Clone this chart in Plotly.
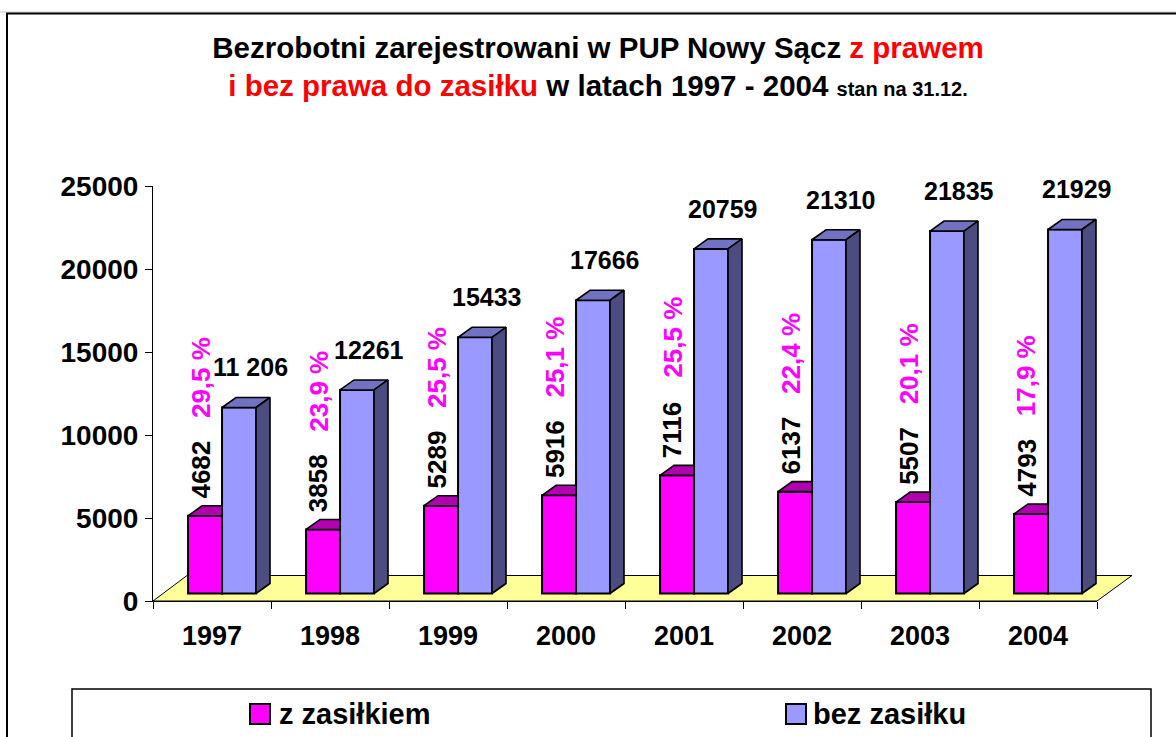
import plotly.graph_objects as go

# ---------------- data ----------------
years = ["1997", "1998", "1999", "2000", "2001", "2002", "2003", "2004"]
z_zasilkiem = [4682, 3858, 5289, 5916, 7116, 6137, 5507, 4793]
bez_zasilku = [11206, 12261, 15433, 17666, 20759, 21310, 21835, 21929]
bez_labels = ["11 206", "12261", "15433", "17666", "20759", "21310", "21835", "21929"]
udzial = ["29,5 %", "23,9 %", "25,5 %", "25,1 %", "25,5 %", "22,4 %", "20,1 %", "17,9 %"]
y_ticks = [0, 5000, 10000, 15000, 20000, 25000]
y_tick_labels = ["0", "5000", "10000", "15000", "20000", "25000"]

# ---------------- layout geometry (styles) ----------------
W, H = 1176, 737
ML, MR, MT, MB = 153, 79, 186, 136
PW, PH = W - ML - MR, H - MT - MB
YMAX = 25000
FONT = "Arial, 'Liberation Sans', sans-serif"


def px(xp):
    return (xp - ML) / PW


def py(yp):
    return (H - MB - yp) / PH


UNIT = YMAX / PH          # value units per pixel
BASE = 7.5 * UNIT         # bars stand slightly inside the floor
DY = 10 * UNIT            # 3-D depth (vertical)
DX = 14 / 118             # 3-D depth (horizontal, category units)
BW = 0.288                # bar width
OFF_M = -0.203
OFF_B = OFF_M + BW

MAG, MAG_TOP = "#FF00FF", "#B000B0"
BLU, BLU_TOP, BLU_SIDE = "#9999FF", "#7272C2", "#4C4C80"

xs = list(range(len(years)))

fig = go.Figure()

fig.add_trace(go.Bar(
    x=xs, y=z_zasilkiem, base=BASE, width=BW, offset=OFF_M,
    marker=dict(color=MAG, line=dict(color="black", width=2)),
    name="z zasiłkiem", showlegend=False, hoverinfo="skip"))
fig.add_trace(go.Bar(
    x=xs, y=bez_zasilku, base=BASE, width=BW, offset=OFF_B,
    marker=dict(color=BLU, line=dict(color="black", width=2)),
    name="bez zasiłku", showlegend=False, hoverinfo="skip"))

# 3-D faces computed from the data values
mtx, mty, btx, bty, bsx, bsy = [], [], [], [], [], []
for i, (vm, vb) in enumerate(zip(z_zasilkiem, bez_zasilku)):
    xa, xb, xc = i + OFF_M, i + OFF_B, i + OFF_B + BW
    t = BASE + vm
    mtx += [xa, xb, xb, xa + DX, xa, None]
    mty += [t, t, t + DY, t + DY, t, None]
    T = BASE + vb
    btx += [xb, xc, xc + DX, xb + DX, xb, None]
    bty += [T, T, T + DY, T + DY, T, None]
    bsx += [xc, xc + DX, xc + DX, xc, xc, None]
    bsy += [BASE, BASE + DY, T + DY, T, BASE, None]

for fx, fy, fc in [(mtx, mty, MAG_TOP), (btx, bty, BLU_TOP), (bsx, bsy, BLU_SIDE)]:
    fig.add_trace(go.Scatter(
        x=fx, y=fy, mode="lines", fill="toself", fillcolor=fc,
        line=dict(color="black", width=1.6), showlegend=False, hoverinfo="skip"))

annotations = []
for i, (vm, vb) in enumerate(zip(z_zasilkiem, bez_zasilku)):
    annotations.append(dict(
        x=i + 0.33, y=BASE + vb + DY, xref="x", yref="y", text=f"<b>{bez_labels[i]}</b>",
        showarrow=False, yanchor="bottom", yshift=14,
        font=dict(family=FONT, size=25, color="black")))
    annotations.append(dict(
        x=i - 0.095, y=BASE + vm + DY, xref="x", yref="y", text=str(vm),
        showarrow=False, yanchor="bottom", yshift=5, textangle=-90,
        font=dict(family=FONT, size=26, color="black", weight="bold")))
    annotations.append(dict(
        x=i - 0.095, y=BASE + vm + DY, xref="x", yref="y", text=udzial[i],
        showarrow=False, yanchor="bottom", yshift=86, textangle=-90,
        font=dict(family=FONT, size=26, color="#FF00FF", weight="bold")))

# custom legend texts
annotations.append(dict(x=px(277), y=py(714), xref="paper", yref="paper", text="<b>z zasiłkiem</b>",
                        showarrow=False, xanchor="left", yanchor="middle",
                        font=dict(family=FONT, size=29, color="black")))
annotations.append(dict(x=px(811), y=py(714), xref="paper", yref="paper", text="<b>bez zasiłku</b>",
                        showarrow=False, xanchor="left", yanchor="middle",
                        font=dict(family=FONT, size=29, color="black")))

shapes = [
    # outer frame
    dict(type="line", xref="paper", yref="paper", x0=px(0), y0=py(12), x1=px(1190), y1=py(12),
         line=dict(color="#C8C8C8", width=1), layer="below"),
    dict(type="rect", xref="paper", yref="paper", x0=px(7), y0=py(13.5), x1=px(1190), y1=py(760),
         line=dict(color="black", width=2), layer="below"),
    # floor
    dict(type="path", xref="paper", yref="paper",
         path=f"M 0,0 L 1,0 L {px(1132)},{py(575.5)} L {px(187)},{py(575.5)} Z",
         fillcolor="#FFFF99", line=dict(color="black", width=1), layer="below"),
    # legend box
    dict(type="rect", xref="paper", yref="paper", x0=px(72), y0=py(689), x1=px(1151), y1=py(760),
         line=dict(color="black", width=1.5), fillcolor="white"),
    dict(type="rect", xref="paper", yref="paper", x0=px(250), y0=py(704), x1=px(270), y1=py(724),
         line=dict(color="black", width=2), fillcolor=MAG),
    dict(type="rect", xref="paper", yref="paper", x0=px(786), y0=py(704), x1=px(806), y1=py(724),
         line=dict(color="black", width=2), fillcolor=BLU),
]

title_text = ("<b>Bezrobotni zarejestrowani w PUP Nowy Sącz <span style='color:#FF0000'>z prawem</span></b><br>"
              "<b><span style='color:#FF0000'>i bez prawa do zasiłku</span> w latach 1997 - 2004 "
              "<span style='font-size:20px'>stan na 31.12.</span></b>")

fig.update_layout(
    width=W, height=H,
    margin=dict(l=ML, r=MR, t=MT, b=MB, autoexpand=False),
    paper_bgcolor="white", plot_bgcolor="rgba(0,0,0,0)",
    barmode="overlay",
    title=dict(text=title_text, x=598 / W, xref="container", xanchor="center",
               y=1 - 58 / H, yref="container", yanchor="middle",
               font=dict(family=FONT, size=29.5, color="black")),
    font=dict(family=FONT, color="black"),
    xaxis=dict(range=[-0.5, 7.5], tickmode="array", tickvals=xs, ticktext=years,
               ticks="", showgrid=False, zeroline=False, showline=True, linecolor="black", linewidth=1,
               tickfont=dict(family=FONT, size=27, color="black", weight="bold"),
               ticklabelstandoff=11,
               minor=dict(tickmode="array", tickvals=[k - 0.5 for k in range(len(years) + 1)],
                          ticks="outside", ticklen=7, tickcolor="black", tickwidth=1, showgrid=False)),
    yaxis=dict(range=[0, YMAX], tickmode="array", tickvals=y_ticks, ticktext=y_tick_labels,
               ticks="outside", ticklen=7,
               tickcolor="black", showgrid=False, zeroline=False, showline=True, linecolor="black",
               linewidth=1, tickfont=dict(family=FONT, size=28, color="black", weight="bold"),
               ticklabelstandoff=1),
    annotations=annotations,
    shapes=shapes,
    showlegend=False,
)

fig.write_html("out.html", config={"displayModeBar": False},
               post_script="document.body.style.margin='0px';")
